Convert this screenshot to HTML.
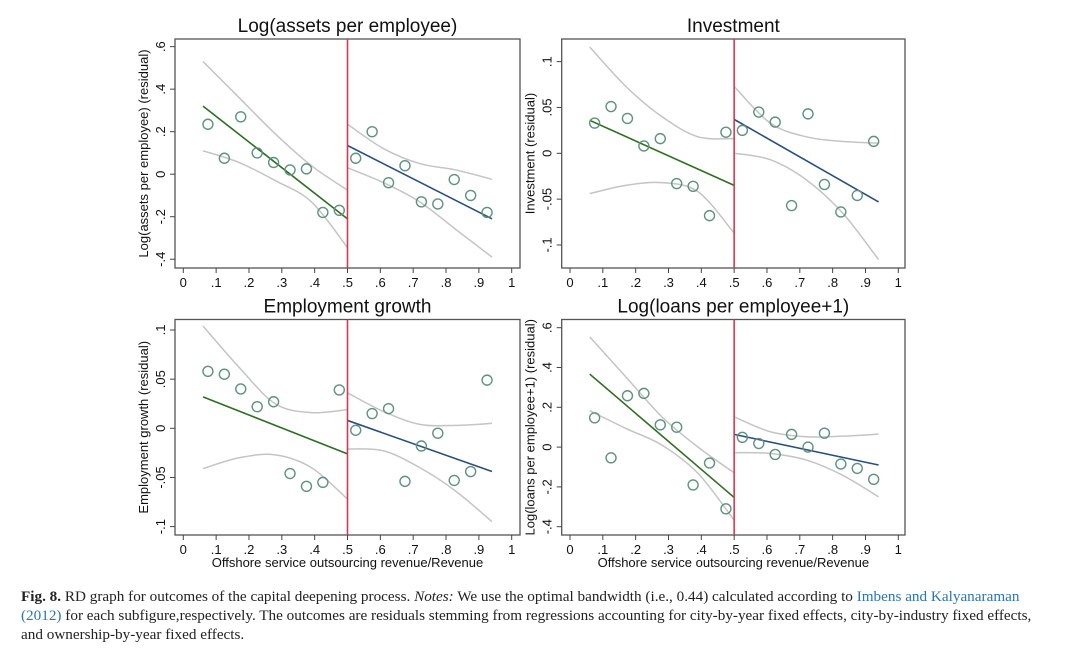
<!DOCTYPE html>
<html><head><meta charset="utf-8">
<style>
body{margin:0;background:#fff;width:1080px;height:653px;overflow:hidden;font-family:"Liberation Sans",sans-serif}
svg{position:absolute;left:0;top:0}
.cap{position:absolute;left:21px;top:587px;width:1055px;white-space:nowrap;font-family:"Liberation Serif",serif;font-size:15.2px;line-height:19px;color:#222}
.cap a{color:#2d74b5;text-decoration:none}
</style></head><body>
<svg id="chart" width="1080" height="580"></svg>
<div class="cap"><b>Fig. 8.</b> RD graph for outcomes of the capital deepening process. <i>Notes:</i> We use the optimal bandwidth (i.e., 0.44) calculated according to <a>Imbens and Kalyanaraman<br>(2012)</a> for each subfigure,respectively. The outcomes are residuals stemming from regressions accounting for city-by-year fixed effects, city-by-industry fixed effects,<br>and ownership-by-year fixed effects.</div>
<script>
const binX = [0.075,0.125,0.175,0.225,0.275,0.325,0.375,0.425,0.475,0.525,0.575,0.625,0.675,0.725,0.775,0.825,0.875,0.925];
const xTicks = [0,0.1,0.2,0.3,0.4,0.5,0.6,0.7,0.8,0.9,1];
const xTickLabels = ["0",".1",".2",".3",".4",".5",".6",".7",".8",".9","1"];
const ciXLeft = [0.06,0.17,0.28,0.39,0.5];
const ciXRight = [0.5,0.61,0.72,0.83,0.94];

const assetsPts = [0.235,0.075,0.27,0.10,0.055,0.02,0.025,-0.18,-0.17,0.075,0.20,-0.04,0.04,-0.13,-0.14,-0.025,-0.10,-0.18];
const assetsFitL = [0.32,-0.21], assetsFitR = [0.135,-0.21];
const assetsUpL = [0.53,0.36,0.19,0.04,-0.075], assetsLoL = [0.11,0.055,-0.03,-0.13,-0.345];
const assetsUpR = [0.235,0.12,0.05,0.02,-0.024], assetsLoR = [0.03,-0.04,-0.13,-0.26,-0.39];
const assetsTicks = [-0.4,-0.2,0,0.2,0.4,0.6], assetsTickLabels = ["-.4","-.2","0",".2",".4",".6"];

const invPts = [0.033,0.051,0.038,0.008,0.016,-0.033,-0.036,-0.068,0.023,0.025,0.045,0.034,-0.057,0.043,-0.034,-0.064,-0.046,0.013];
const invFitL = [0.036,-0.035], invFitR = [0.037,-0.053];
const invUpL = [0.116,0.073,0.04,0.018,0.016], invLoL = [-0.044,-0.035,-0.032,-0.042,-0.087];
const invUpR = [0.073,0.033,0.018,0.013,0.011], invLoR = [0,-0.007,-0.029,-0.065,-0.116];
const invTicks = [-0.1,-0.05,0,0.05,0.1], invTickLabels = ["-.1","-.05","0",".05",".1"];

const empPts = [0.058,0.055,0.040,0.022,0.027,-0.046,-0.059,-0.055,0.039,-0.002,0.015,0.020,-0.054,-0.018,-0.005,-0.053,-0.044,0.049];
const empFitL = [0.032,-0.026], empFitR = [0.008,-0.044];
const empUpL = [0.104,0.062,0.025,0.016,0.019], empLoL = [-0.041,-0.030,-0.027,-0.040,-0.072];
const empUpR = [0.036,0.017,0.004,0.003,0.005], empLoR = [-0.021,-0.023,-0.040,-0.064,-0.095];
const empTicks = [-0.1,-0.05,0,0.05,0.1], empTickLabels = ["-.1","-.05","0",".05",".1"];

const loanPts = [0.147,-0.054,0.258,0.27,0.112,0.10,-0.19,-0.08,-0.31,0.049,0.018,-0.037,0.064,0,0.07,-0.085,-0.107,-0.162];
const loanFitL = [0.367,-0.253], loanFitR = [0.064,-0.09];
const loanUpL = [0.554,0.353,0.152,0,-0.129], loanLoL = [0.183,0.094,0.01,-0.132,-0.367];
const loanUpR = [0.152,0.077,0.052,0.055,0.065], loanLoR = [-0.028,-0.032,-0.065,-0.141,-0.25];
const loanTicks = [-0.4,-0.2,0,0.2,0.4,0.6], loanTickLabels = ["-.4","-.2","0",".2",".4",".6"];

const NS="http://www.w3.org/2000/svg";
const svg=document.getElementById('chart');
function mk(tag,attrs,parent){const e=document.createElementNS(NS,tag);for(const k in attrs)e.setAttribute(k,attrs[k]);(parent||svg).appendChild(e);return e;}
function smooth(pts){let d='M'+pts[0][0]+','+pts[0][1];for(let i=0;i<pts.length-1;i++){const p0=pts[Math.max(0,i-1)],p1=pts[i],p2=pts[i+1],p3=pts[Math.min(pts.length-1,i+2)];const c1=[p1[0]+(p2[0]-p0[0])/6,p1[1]+(p2[1]-p0[1])/6],c2=[p2[0]-(p3[0]-p1[0])/6,p2[1]-(p3[1]-p1[1])/6];d+=' C'+c1+' '+c2+' '+p2;}return d;}

function panel(o){
  const g=mk('g',{});
  
  
  const sx=v=>o.x0+v*(o.x1-o.x0);
  const sy=v=>o.yZero-v*o.yUnit;
  const box=mk('rect',{x:o.bl,y:o.bt,width:o.br-o.bl,height:o.bb-o.bt,fill:'none',stroke:'#555','stroke-width':1.3},g);
  
  
  const t=mk('text',{x:(o.bl+o.br)/2,y:o.bt-7,'text-anchor':'middle','font-size':19,fill:'#111'},g);t.textContent=o.title;
  
  
  xTicks.forEach((v,i)=>{
    mk('line',{x1:sx(v),x2:sx(v),y1:o.bb,y2:o.bb+5,stroke:'#444'},g);
    const l=mk('text',{x:sx(v),y:o.bb+19,'text-anchor':'middle','font-size':13,fill:'#111'},g);l.textContent=xTickLabels[i];
    
    
  });
  o.ticks.forEach((v,i)=>{
    mk('line',{x1:o.bl,x2:o.bl-5,y1:sy(v),y2:sy(v),stroke:'#444'},g);
    const l=mk('text',{x:o.bl-10,y:sy(v),'text-anchor':'middle','font-size':13,fill:'#111',transform:`rotate(-90 ${o.bl-10} ${sy(v)})`},g);l.textContent=o.tickLabels[i];
    
    
  });
  const yc=(o.bt+o.bb)/2;
  const yt=mk('text',{x:o.bl-27,y:yc,'text-anchor':'middle','font-size':13,fill:'#111',transform:`rotate(-90 ${o.bl-27} ${yc})`},g);yt.textContent=o.ytitle;
  
  
  if(o.xtitle){const xt=mk('text',{x:(o.bl+o.br)/2,y:o.bb+32,'text-anchor':'middle','font-size':13,fill:'#111'},g);xt.textContent=o.xtitle;
    
    }
  [[ciXLeft,o.upL],[ciXLeft,o.loL],[ciXRight,o.upR],[ciXRight,o.loR]].forEach(([xs,ys])=>{
    const p=mk('path',{d:smooth(xs.map((x,i)=>[sx(x),sy(ys[i])])),fill:'none',stroke:'#c4c4c4','stroke-width':1.5},g);
    
    
  });
  const fl=mk('line',{x1:sx(ciXLeft[0]),y1:sy(o.fitL[0]),x2:sx(0.5),y2:sy(o.fitL[1]),stroke:'#2f6e22','stroke-width':1.6},g);
  
  
  const fr=mk('line',{x1:sx(0.5),y1:sy(o.fitR[0]),x2:sx(ciXRight[4]),y2:sy(o.fitR[1]),stroke:'#2a4f7e','stroke-width':1.6},g);
  
  
  o.pts.forEach((v,i)=>{
    const c=mk('circle',{cx:sx(binX[i]),cy:sy(v),r:5,fill:'none',stroke:'#5f9280','stroke-width':1.4},g);
    
    
  });
  const cut=mk('line',{x1:sx(0.5),x2:sx(0.5),y1:o.bt,y2:o.bb,stroke:'#d8384e','stroke-width':1.6},g);
  
  
}
const L={bl:175,br:520,x0:183.3,x1:511.7}, R={bl:561.7,br:905,x0:570,x1:898.3};
panel(Object.assign({},L,{name:'assets',title:'Log(assets per employee)',ytitle:'Log(assets per employee) (residual)',bt:39,bb:268,yZero:174.2,yUnit:212.6,ticks:assetsTicks,tickLabels:assetsTickLabels,pts:assetsPts,fitL:assetsFitL,fitR:assetsFitR,upL:assetsUpL,loL:assetsLoL,upR:assetsUpR,loR:assetsLoR}));
panel(Object.assign({},R,{name:'investment',title:'Investment',ytitle:'Investment (residual)',bt:39,bb:268,yZero:153.3,yUnit:916.7,ticks:invTicks,tickLabels:invTickLabels,pts:invPts,fitL:invFitL,fitR:invFitR,upL:invUpL,loL:invLoL,upR:invUpR,loR:invLoR}));
panel(Object.assign({},L,{name:'employment',title:'Employment growth',ytitle:'Employment growth (residual)',xtitle:'Offshore service outsourcing revenue/Revenue',bt:319.5,bb:535,yZero:428.3,yUnit:983,ticks:empTicks,tickLabels:empTickLabels,pts:empPts,fitL:empFitL,fitR:empFitR,upL:empUpL,loL:empLoL,upR:empUpR,loR:empLoR}));
panel(Object.assign({},R,{name:'loans',title:'Log(loans per employee+1)',ytitle:'Log(loans per employee+1) (residual)',xtitle:'Offshore service outsourcing revenue/Revenue',bt:319.5,bb:535,yZero:447.1,yUnit:199,ticks:loanTicks,tickLabels:loanTickLabels,pts:loanPts,fitL:loanFitL,fitR:loanFitR,upL:loanUpL,loL:loanLoL,upR:loanUpR,loR:loanLoR}));
</script>
</body></html>
